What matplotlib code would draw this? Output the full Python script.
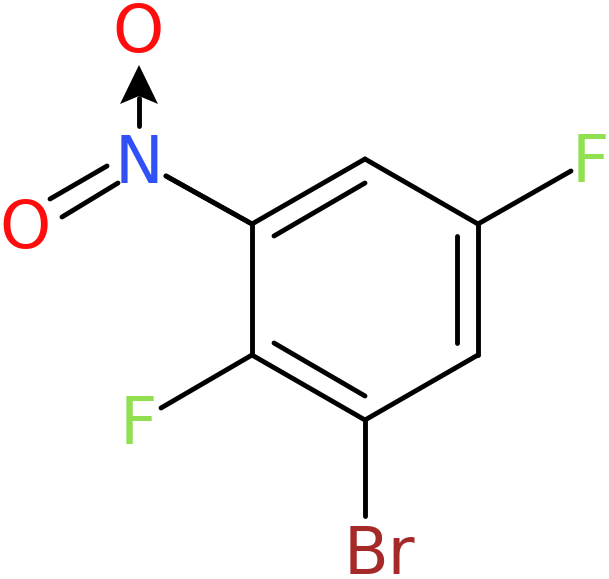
import matplotlib
matplotlib.use("Agg")
import matplotlib.pyplot as plt
from matplotlib.patches import Polygon

W, H = 609, 579
# atoms: label, x, baseline y, colour
atom_labels = ["O", "N", "O", "F", "F", "Br"]
atom_x = [138, 139, 25, 590, 138, 379]
atom_y = [52, 183, 248, 182, 444, 574]
atom_colors = ["#ff0d0d", "#3050f8", "#ff0d0d", "#90e050", "#90e050", "#a62929"]

# bonds: x0, y0, x1, y1
bond_x0 = [252, 365, 478, 478, 365, 252, 274, 457, 274, 252, 478, 252, 365, 166, 139, 107, 118]
bond_y0 = [224, 159, 224, 355, 420, 355, 236, 236, 343, 224, 224, 355, 420, 176, 126, 166, 183]
bond_x1 = [365, 478, 478, 365, 252, 252, 365, 457, 365, 166, 571, 161, 365, 252, 139, 50, 62]
bond_y1 = [159, 224, 355, 420, 355, 224, 183, 343, 396, 176, 171, 408, 516, 224, 98, 199, 217]

fig = plt.figure(figsize=(W / 100, H / 100), dpi=100)
ax = fig.add_axes([0, 0, 1, 1])
ax.set_xlim(0, W)
ax.set_ylim(H, 0)
ax.axis("off")

for a, b, c, d in zip(bond_x0, bond_y0, bond_x1, bond_y1):
    ax.plot([a, c], [b, d], color="black", lw=3.5, solid_capstyle="round")

ax.add_patch(Polygon([[139, 65], [120, 104], [139, 96], [158, 104]], closed=True, color="black", lw=0))

for t, x, y, c in zip(atom_labels, atom_x, atom_y, atom_colors):
    ax.text(x, y, t, color=c, fontsize=47, ha="center", va="baseline", family="DejaVu Sans")

fig.savefig("out.png", dpi=100)
